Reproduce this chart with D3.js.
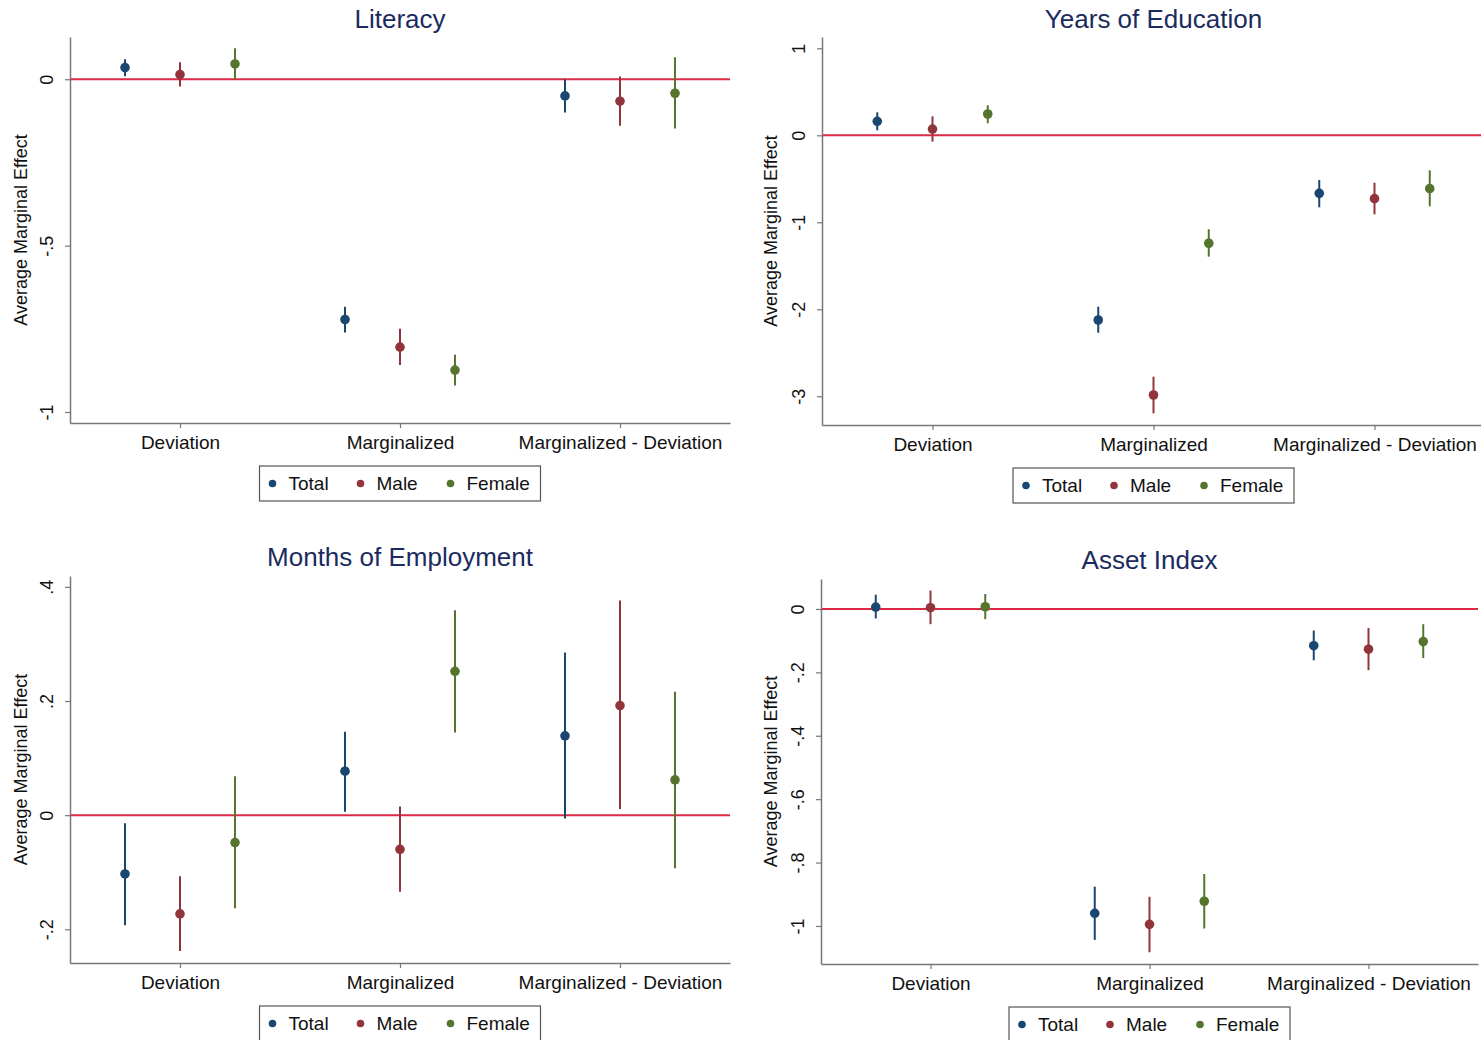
<!DOCTYPE html>
<html>
<head>
<meta charset="utf-8">
<script src="https://cdn.jsdelivr.net/npm/d3@7"></script>
<style>
  body { margin: 0; background: #fff; }
  svg { display: block; font-family: "Liberation Sans", Arial, Helvetica, sans-serif; }
</style>
</head>
<body>
<div id="chart"></div>
<script>
// categories and series shared by all four panels
const categories = ["Deviation", "Marginalized", "Marginalized - Deviation"];
const series = ["Total", "Male", "Female"];
const colors = ["#1a476f", "#90353b", "#55752f"];

// rows = category, columns = series (Total, Male, Female)
const literacyEst = [[0.035, 0.014, 0.046], [-0.722, -0.805, -0.874], [-0.050, -0.066, -0.042]];
const literacyLo  = [[0.009, -0.022, 0.000], [-0.761, -0.859, -0.920], [-0.100, -0.140, -0.148]];
const literacyHi  = [[0.060, 0.051, 0.093], [-0.684, -0.750, -0.828], [0.000, 0.008, 0.066]];
const literacyTicks = [0, -0.5, -1];
const literacyTickLabels = ["0", "-.5", "-1"];

const educationEst = [[0.161, 0.072, 0.245], [-2.123, -2.985, -1.241], [-0.667, -0.728, -0.613]];
const educationLo  = [[0.057, -0.073, 0.138], [-2.269, -3.195, -1.395], [-0.828, -0.908, -0.816]];
const educationHi  = [[0.264, 0.218, 0.345], [-1.970, -2.775, -1.080], [-0.514, -0.545, -0.402]];
const educationTicks = [1, 0, -1, -2, -3];
const educationTickLabels = ["1", "0", "-1", "-2", "-3"];

const employmentEst = [[-0.103, -0.173, -0.048], [0.077, -0.060, 0.252], [0.139, 0.192, 0.062]];
const employmentLo  = [[-0.193, -0.238, -0.163], [0.006, -0.134, 0.145], [-0.006, 0.011, -0.093]];
const employmentHi  = [[-0.014, -0.107, 0.068], [0.146, 0.015, 0.359], [0.285, 0.376, 0.216]];
const employmentTicks = [0.4, 0.2, 0, -0.2];
const employmentTickLabels = [".4", ".2", "0", "-.2"];

const assetEst = [[0.006, 0.004, 0.007], [-0.960, -0.995, -0.922], [-0.116, -0.127, -0.103]];
const assetLo  = [[-0.030, -0.048, -0.032], [-1.044, -1.083, -1.008], [-0.162, -0.193, -0.155]];
const assetHi  = [[0.045, 0.058, 0.047], [-0.876, -0.908, -0.836], [-0.068, -0.060, -0.048]];
const assetTicks = [0, -0.2, -0.4, -0.6, -0.8, -1];
const assetTickLabels = ["0", "-.2", "-.4", "-.6", "-.8", "-1"];

const width = 1481, height = 1040;

const panels = [
  { title: "Literacy", est: literacyEst, lo: literacyLo, hi: literacyHi,
    ticks: literacyTicks, labels: literacyTickLabels, domain: [-1.033, 0.127],
    left: 70, right: 730, top: 37, bottom: 423, titleY: 28, yTitleX: 27 },
  { title: "Years of Education", est: educationEst, lo: educationLo, hi: educationHi,
    ticks: educationTicks, labels: educationTickLabels, domain: [-3.33, 1.13],
    left: 822, right: 1485, top: 37, bottom: 425, titleY: 28, yTitleX: 777 },
  { title: "Months of Employment", est: employmentEst, lo: employmentLo, hi: employmentHi,
    ticks: employmentTicks, labels: employmentTickLabels, domain: [-0.259, 0.419],
    left: 70, right: 730, top: 576, bottom: 963, titleY: 566, yTitleX: 27 },
  { title: "Asset Index", est: assetEst, lo: assetLo, hi: assetHi,
    ticks: assetTicks, labels: assetTickLabels, domain: [-1.12, 0.0945],
    left: 821, right: 1478, top: 579, bottom: 964, titleY: 569, yTitleX: 777 }
];

const svg = d3.select("#chart").append("svg")
  .attr("width", width)
  .attr("height", height);

panels.forEach((p) => {
  const g = svg.append("g");

  const x = d3.scalePoint().domain(categories).range([p.left, p.right]).padding(0.5);
  const xSub = d3.scalePoint().domain(series).range([-x.step() / 4, x.step() / 4]);
  const y = d3.scaleLinear().domain(p.domain).range([p.bottom, p.top]);

  // title
  g.append("text")
    .attr("x", x(categories[1]))
    .attr("y", p.titleY)
    .attr("text-anchor", "middle")
    .style("font-size", "26px")
    .style("fill", "#1b2b5e")
    .text(p.title);

  // y axis
  const yAxis = g.append("g")
    .attr("transform", `translate(${p.left},0)`)
    .call(d3.axisLeft(y).tickValues(p.ticks)
      .tickFormat((d, i) => p.labels[i]).tickSize(5).tickSizeOuter(0));
  yAxis.select(".domain").attr("stroke", "#777").attr("stroke-width", 1.5);
  yAxis.selectAll(".tick line").attr("stroke", "#777").attr("stroke-width", 1.2);
  yAxis.selectAll(".tick text")
    .attr("x", 0).attr("dy", null)
    .attr("transform", "translate(-23,0) rotate(-90)")
    .attr("text-anchor", "middle")
    .attr("dominant-baseline", "central")
    .style("font-size", "18px")
    .style("fill", "#111");

  // x axis
  const xAxis = g.append("g")
    .attr("transform", `translate(0,${p.bottom})`)
    .call(d3.axisBottom(x).tickSize(5).tickSizeOuter(0).tickPadding(8));
  xAxis.select(".domain").attr("stroke", "#777").attr("stroke-width", 1.5);
  xAxis.selectAll(".tick line").attr("stroke", "#777").attr("stroke-width", 1.2);
  xAxis.selectAll(".tick text")
    .style("font-size", "19px")
    .style("fill", "#111");

  // y axis title
  g.append("text")
    .attr("transform", `translate(${p.yTitleX},${(p.top + p.bottom) / 2}) rotate(-90)`)
    .attr("text-anchor", "middle")
    .style("font-size", "18px")
    .style("fill", "#111")
    .text("Average Marginal Effect");

  // zero reference line
  g.append("line")
    .attr("x1", p.left + 1).attr("x2", p.right)
    .attr("y1", y(0)).attr("y2", y(0))
    .attr("stroke", "#dc2a45")
    .attr("stroke-width", 2);

  // confidence intervals and point estimates
  categories.forEach((c, ci) => {
    series.forEach((s, si) => {
      const cx = x(c) + xSub(s);
      g.append("line")
        .attr("x1", cx).attr("x2", cx)
        .attr("y1", y(p.lo[ci][si])).attr("y2", y(p.hi[ci][si]))
        .attr("stroke", colors[si])
        .attr("stroke-width", 2);
      g.append("circle")
        .attr("cx", cx).attr("cy", y(p.est[ci][si]))
        .attr("r", 4.8)
        .attr("fill", colors[si]);
    });
  });

  // legend
  const lw = 281, lh = 35;
  const lx = x(categories[1]) - lw / 2, ly = p.bottom + 43;
  const legend = g.append("g").attr("transform", `translate(${lx},${ly})`);
  legend.append("rect")
    .attr("width", lw).attr("height", lh)
    .attr("fill", "#fff")
    .attr("stroke", "#555")
    .attr("stroke-width", 1.2);
  const itemX = [13, 101, 191];
  series.forEach((s, si) => {
    legend.append("circle")
      .attr("cx", itemX[si]).attr("cy", lh / 2)
      .attr("r", 3.8)
      .attr("fill", colors[si]);
    legend.append("text")
      .attr("x", itemX[si] + 16).attr("y", lh / 2)
      .attr("dy", "0.36em")
      .style("font-size", "19px")
      .style("fill", "#111")
      .text(s);
  });
});
</script>
</body>
</html>
